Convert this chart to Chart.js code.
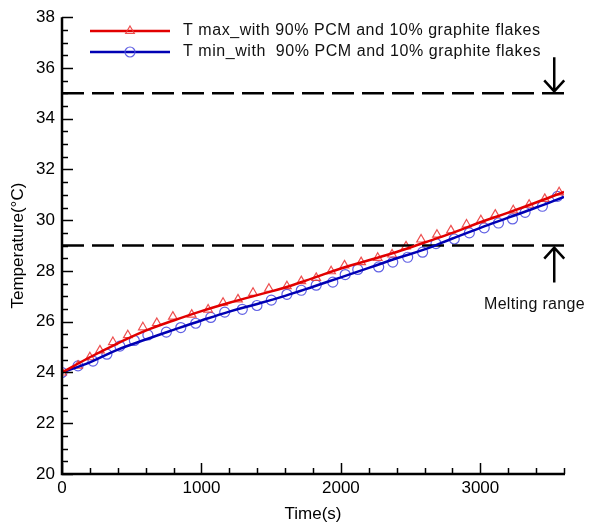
<!DOCTYPE html>
<html>
<head>
<meta charset="utf-8">
<script src="https://cdn.jsdelivr.net/npm/chart.js@4/dist/chart.umd.min.js"></script>
<style>
  html, body { margin: 0; padding: 0; background: #fff; }
  #wrap { width: 590px; height: 527px; position: relative; }
</style>
</head>
<body>
<div id="wrap"><canvas id="temp-chart"></canvas></div>
<script>
// simulated curves, sampled every 200 s
const lineTimes = [0, 200, 400, 600, 800, 1000, 1200, 1400, 1600, 1800, 2000, 2200, 2400, 2600, 2800, 3000, 3200, 3400, 3600];
const tMaxLine = [24.0, 24.6, 25.15, 25.65, 26.05, 26.42, 26.75, 27.05, 27.35, 27.72, 28.1, 28.42, 28.75, 29.12, 29.5, 29.92, 30.3, 30.7, 31.12];
const tMinLine = [24.0, 24.4, 24.9, 25.3, 25.68, 26.05, 26.4, 26.7, 27.02, 27.38, 27.75, 28.12, 28.5, 28.85, 29.28, 29.7, 30.1, 30.5, 30.92];

// measured points
const tMaxTimes = [0, 115, 200, 272, 365, 472, 580, 680, 795, 930, 1048, 1155, 1262, 1370, 1484, 1613, 1716, 1823, 1930, 2026, 2145, 2264, 2367, 2467, 2575, 2689, 2789, 2901, 3004, 3107, 3236, 3350, 3462, 3565];
const tMaxPoints = [24.0, 24.27, 24.6, 24.87, 25.2, 25.47, 25.78, 25.95, 26.2, 26.28, 26.48, 26.75, 26.88, 27.14, 27.3, 27.4, 27.6, 27.73, 27.99, 28.22, 28.35, 28.52, 28.65, 28.97, 29.24, 29.43, 29.6, 29.83, 30.0, 30.22, 30.39, 30.61, 30.84, 31.1];
const tMinTimes = [0, 115, 222, 322, 415, 519, 616, 748, 852, 959, 1067, 1167, 1293, 1398, 1501, 1613, 1716, 1823, 1942, 2031, 2121, 2271, 2372, 2479, 2586, 2682, 2813, 2921, 3028, 3130, 3231, 3321, 3445, 3553];
const tMinPoints = [24.0, 24.26, 24.45, 24.72, 25.04, 25.26, 25.48, 25.59, 25.77, 25.94, 26.17, 26.38, 26.49, 26.64, 26.85, 27.08, 27.24, 27.44, 27.56, 27.86, 28.06, 28.16, 28.35, 28.54, 28.74, 29.08, 29.26, 29.5, 29.7, 29.89, 30.05, 30.31, 30.55, 30.94];

// melting range bounds (°C)
const meltLow = 29;
const meltHigh = 35;

const legendLabels = ['T max_with 90% PCM and 10% graphite flakes', 'T min_with  90% PCM and 10% graphite flakes'];

const RED = 'rgb(226, 0, 0)';
const BLUE = 'rgb(0, 0, 180)';
const RED_MARK = 'rgba(235, 60, 60, 0.9)';
const BLUE_MARK = 'rgba(80, 80, 225, 0.9)';
const FONT = "'Liberation Sans', Arial, sans-serif";

const xy = (xs, ys) => xs.map((x, i) => ({ x, y: ys[i] }));

function arrow(ctx, x, yFrom, yTo) {
    const dir = yTo > yFrom ? 1 : -1;
    ctx.beginPath();
    ctx.moveTo(x, yFrom);
    ctx.lineTo(x, yTo);
    ctx.moveTo(x - 10, yTo - dir * 11);
    ctx.lineTo(x, yTo);
    ctx.lineTo(x + 10, yTo - dir * 11);
    ctx.stroke();
}

// axis lines, inward ticks, legend and arrows
const decorations = {
    id: 'decorations',
    afterDatasetsDraw(chart) {
        const { ctx, chartArea: a, scales: { x, y } } = chart;
        ctx.save();
        ctx.strokeStyle = '#000';
        ctx.lineWidth = 2.5;
        ctx.beginPath();
        ctx.moveTo(a.left, a.top);
        ctx.lineTo(a.left, a.bottom);
        ctx.lineTo(a.right + 1, a.bottom);
        ctx.stroke();

        ctx.lineWidth = 1.5;
        x.ticks.forEach(t => {
            const px = Math.round(x.getPixelForValue(t.value)) + 0.5;
            const len = t.value % 1000 === 0 ? 11 : 6;
            ctx.beginPath();
            ctx.moveTo(px, a.bottom);
            ctx.lineTo(px, a.bottom - len);
            ctx.stroke();
        });
        y.ticks.forEach(t => {
            const py = Math.round(y.getPixelForValue(t.value)) + 0.5;
            const len = t.value % 2 === 0 ? 11 : 6;
            ctx.beginPath();
            ctx.moveTo(a.left, py);
            ctx.lineTo(a.left + len, py);
            ctx.stroke();
        });

        // arrows marking the melting range
        ctx.lineWidth = 2.5;
        const ax = x.getPixelForValue(3530);
        const yHigh = y.getPixelForValue(meltHigh);
        const yLow = y.getPixelForValue(meltLow);
        arrow(ctx, ax, yHigh - 36, yHigh - 2);
        arrow(ctx, ax, yLow + 37, yLow + 2);

        ctx.fillStyle = '#111';
        ctx.font = '16px ' + FONT;
        ctx.letterSpacing = '0.3px';
        ctx.textAlign = 'left';
        ctx.textBaseline = 'middle';
        ctx.fillText('Melting range', 484, yLow + 59);

        // legend
        const rows = [
            { label: legendLabels[0], line: RED, mark: RED_MARK, style: 'triangle', y: 31 },
            { label: legendLabels[1], line: BLUE, mark: BLUE_MARK, style: 'circle', y: 52 }
        ];
        ctx.font = '16px ' + FONT;
        ctx.letterSpacing = '0.55px';
        rows.forEach(r => {
            ctx.strokeStyle = r.line;
            ctx.lineWidth = 2.5;
            ctx.beginPath();
            ctx.moveTo(90, r.y);
            ctx.lineTo(170, r.y);
            ctx.stroke();
            ctx.strokeStyle = r.mark;
            ctx.fillStyle = 'rgba(0,0,0,0)';
            ctx.lineWidth = 1.2;
            Chart.helpers.drawPoint(ctx, { pointStyle: r.style, radius: 5, borderWidth: 1.2 }, 130, r.y);
            ctx.fillStyle = '#111';
            ctx.fillText(r.label, 183, r.y);
        });
        ctx.restore();
    }
};

const markerSet = (data, style, color) => ({
    data,
    showLine: false,
    pointStyle: style,
    pointRadius: 5,
    pointBorderWidth: 1.2,
    pointBorderColor: color,
    pointBackgroundColor: 'rgba(0,0,0,0)',
    order: 3
});

const curveSet = (data, color) => ({
    data,
    borderColor: color,
    borderWidth: 2.5,
    pointRadius: 0,
    tension: 0.4,
    order: 1
});

const dashedSet = (level) => ({
    data: [{ x: 0, y: level }, { x: 3600, y: level }],
    borderColor: '#000',
    borderWidth: 2.5,
    borderDash: [22, 8],
    pointRadius: 0,
    order: 2
});

new Chart(document.getElementById('temp-chart').getContext('2d'), {
    type: 'line',
    data: {
        datasets: [
            markerSet(xy(tMaxTimes, tMaxPoints), 'triangle', RED_MARK),
            markerSet(xy(tMinTimes, tMinPoints), 'circle', BLUE_MARK),
            dashedSet(meltHigh),
            dashedSet(meltLow),
            curveSet(xy(lineTimes, tMaxLine), RED),
            curveSet(xy(lineTimes, tMinLine), BLUE)
        ]
    },
    options: {
        responsive: true,
        maintainAspectRatio: false,
        animation: false,
        layout: { padding: { top: 15, right: 26, left: 0, bottom: 0 } },
        plugins: { legend: { display: false }, tooltip: { enabled: false } },
        scales: {
            x: {
                type: 'linear',
                min: 0,
                max: 3600,
                border: { display: false },
                grid: { display: false, drawTicks: false },
                ticks: {
                    stepSize: 200,
                    autoSkip: false,
                    maxRotation: 0,
                    padding: 4,
                    color: '#000',
                    font: { family: FONT, size: 17 },
                    callback: v => (v % 1000 === 0 ? String(v) : '')
                },
                title: {
                    display: true,
                    text: 'Time(s)',
                    color: '#000',
                    font: { family: FONT, size: 17 },
                    padding: { top: 0, bottom: 2 }
                },
                afterFit: s => { s.height = 53; }
            },
            y: {
                min: 20,
                max: 38,
                border: { display: false },
                grid: { display: false, drawTicks: false },
                ticks: {
                    stepSize: 0.5,
                    autoSkip: false,
                    padding: 7,
                    color: '#000',
                    font: { family: FONT, size: 17 },
                    callback: v => (v % 2 === 0 ? String(v) : '')
                },
                title: {
                    display: true,
                    text: 'Temperature(°C)',
                    color: '#000',
                    font: { family: FONT, size: 17 },
                    padding: { top: 8, bottom: 0 }
                },
                afterFit: s => { s.width = 62; }
            }
        }
    },
    plugins: [decorations]
});
</script>
</body>
</html>
